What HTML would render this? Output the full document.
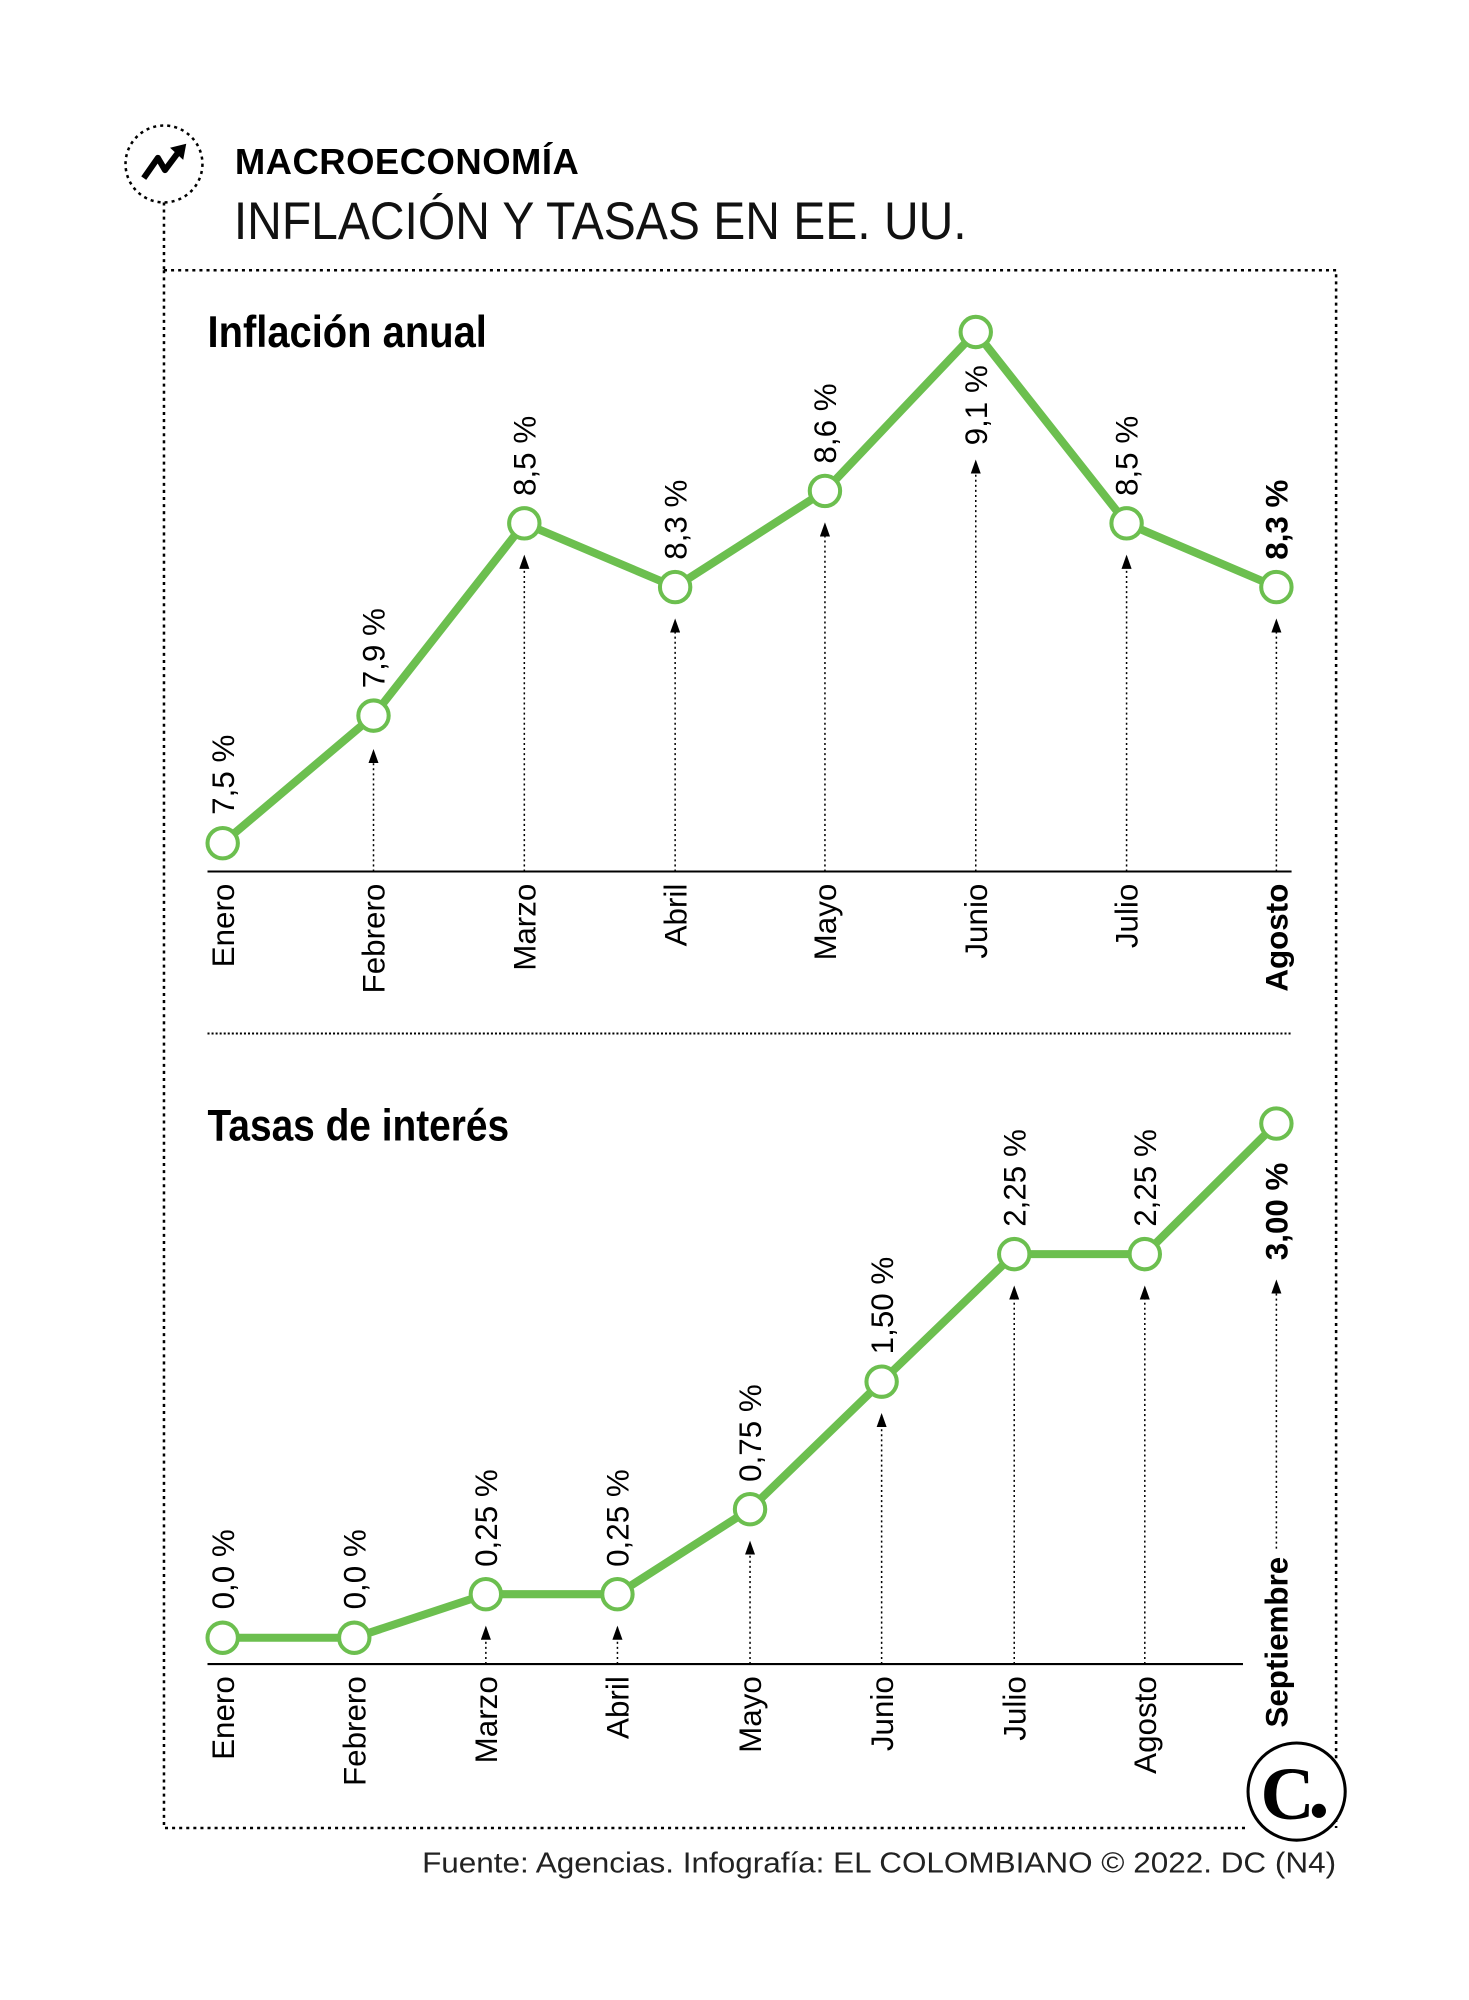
<!DOCTYPE html>
<html><head><meta charset="utf-8"><style>
body{margin:0;background:#fff}
svg{display:block}
text{font-family:"Liberation Sans",sans-serif}
</style></head><body>
<svg width="1469" height="2000" viewBox="0 0 1469 2000" xmlns="http://www.w3.org/2000/svg">
<defs>
<marker id="ar" markerWidth="14" markerHeight="10" refX="12" refY="5" orient="auto" markerUnits="userSpaceOnUse">
<path d="M0,0 L14,5 L0,10 Z" fill="#000"/></marker>
</defs>
<g transform="scale(1.0122)">
<circle cx="162" cy="162" r="38" fill="none" stroke="#000" stroke-width="2.5" stroke-dasharray="3 4"/>
<path d="M142,176 L156,156 L163,168 L178,148" fill="none" stroke="#000" stroke-width="6" stroke-linejoin="round"/>
<path d="M168,146 L184,142 L181,158 Z" fill="#000"/>
<line x1="162" y1="200" x2="162" y2="267" stroke="#000" stroke-width="2.5" stroke-dasharray="3 4"/>
<text x="232" y="172" font-size="36" font-weight="bold" style="letter-spacing:0.5px">MACROECONOMÍA</text>
<text x="231" y="236" font-size="52" fill="#111" textLength="724" lengthAdjust="spacingAndGlyphs">INFLACIÓN Y TASAS EN EE. UU.</text>
<path d="M162,267 L1320,267 L1320,1806 M162,267 L162,1806 L1232,1806" fill="none" stroke="#000" stroke-width="2.5" stroke-dasharray="3 4"/>

<text x="205" y="343" font-size="44" font-weight="bold" textLength="276" lengthAdjust="spacingAndGlyphs">Inflación anual</text>

<line x1="205" y1="861" x2="1276" y2="861" stroke="#000" stroke-width="2"/>
<g stroke="#000" stroke-width="1.5" stroke-dasharray="2 3" marker-end="url(#ar)">
<line x1="369" y1="861" x2="369" y2="742"/>
<line x1="518" y1="861" x2="518" y2="550"/>
<line x1="667" y1="861" x2="667" y2="613"/>
<line x1="815" y1="861" x2="815" y2="518"/>
<line x1="964" y1="861" x2="964" y2="456"/>
<line x1="1113" y1="861" x2="1113" y2="550"/>
<line x1="1261" y1="861" x2="1261" y2="613"/>
</g>
<polyline points="220,833 369,707 518,517 667,580 815,485 964,328 1113,517 1261,580" fill="none" stroke="#6cbf4f" stroke-width="8" stroke-linejoin="round"/>
<g fill="#fff" stroke="#6cbf4f" stroke-width="4">
<circle cx="220" cy="833" r="15"/><circle cx="369" cy="707" r="15"/><circle cx="518" cy="517" r="15"/><circle cx="667" cy="580" r="15"/><circle cx="815" cy="485" r="15"/><circle cx="964" cy="328" r="15"/><circle cx="1113" cy="517" r="15"/><circle cx="1261" cy="580" r="15"/>
</g>
<g font-size="31">
<text transform="translate(231,805) rotate(-90)">7,5 %</text>
<text transform="translate(380,680) rotate(-90)">7,9 %</text>
<text transform="translate(529,490) rotate(-90)">8,5 %</text>
<text transform="translate(678,553) rotate(-90)">8,3 %</text>
<text transform="translate(826,458) rotate(-90)">8,6 %</text>
<text transform="translate(975,440) rotate(-90)">9,1 %</text>
<text transform="translate(1124,490) rotate(-90)">8,5 %</text>
<text transform="translate(1272,553) rotate(-90)" font-weight="bold">8,3 %</text>
</g>
<g font-size="31" text-anchor="end">
<text transform="translate(231,873) rotate(-90)">Enero</text>
<text transform="translate(380,873) rotate(-90)">Febrero</text>
<text transform="translate(529,873) rotate(-90)">Marzo</text>
<text transform="translate(678,873) rotate(-90)">Abril</text>
<text transform="translate(826,873) rotate(-90)">Mayo</text>
<text transform="translate(975,873) rotate(-90)">Junio</text>
<text transform="translate(1124,873) rotate(-90)">Julio</text>
<text transform="translate(1272,873) rotate(-90)" font-weight="bold">Agosto</text>
</g>

<line x1="205" y1="1021" x2="1276" y2="1021" stroke="#000" stroke-width="2" stroke-dasharray="2 2"/>

<text x="205" y="1127" font-size="44" font-weight="bold" textLength="298" lengthAdjust="spacingAndGlyphs">Tasas de interés</text>

<line x1="205" y1="1644" x2="1228" y2="1644" stroke="#000" stroke-width="2"/>
<g stroke="#000" stroke-width="1.5" stroke-dasharray="2 3" marker-end="url(#ar)">
<line x1="480" y1="1644" x2="480" y2="1608"/>
<line x1="610" y1="1644" x2="610" y2="1608"/>
<line x1="741" y1="1644" x2="741" y2="1524"/>
<line x1="871" y1="1644" x2="871" y2="1398"/>
<line x1="1002" y1="1644" x2="1002" y2="1272"/>
<line x1="1131" y1="1644" x2="1131" y2="1272"/>
<line x1="1261" y1="1530" x2="1261" y2="1266"/>
</g>
<polyline points="220,1618 350,1618 480,1575 610,1575 741,1491 871,1365 1002,1239 1131,1239 1261,1110" fill="none" stroke="#6cbf4f" stroke-width="8" stroke-linejoin="round"/>
<g fill="#fff" stroke="#6cbf4f" stroke-width="4">
<circle cx="220" cy="1618" r="15"/><circle cx="350" cy="1618" r="15"/><circle cx="480" cy="1575" r="15"/><circle cx="610" cy="1575" r="15"/><circle cx="741" cy="1491" r="15"/><circle cx="871" cy="1365" r="15"/><circle cx="1002" cy="1239" r="15"/><circle cx="1131" cy="1239" r="15"/><circle cx="1261" cy="1110" r="15"/>
</g>
<g font-size="31">
<text transform="translate(231,1590) rotate(-90)">0,0 %</text>
<text transform="translate(361,1590) rotate(-90)">0,0 %</text>
<text transform="translate(491,1548) rotate(-90)">0,25 %</text>
<text transform="translate(621,1548) rotate(-90)">0,25 %</text>
<text transform="translate(752,1464) rotate(-90)">0,75 %</text>
<text transform="translate(882,1338) rotate(-90)">1,50 %</text>
<text transform="translate(1013,1212) rotate(-90)">2,25 %</text>
<text transform="translate(1142,1212) rotate(-90)">2,25 %</text>
<text transform="translate(1272,1245) rotate(-90)" font-weight="bold">3,00 %</text>
</g>
<g font-size="31" text-anchor="end">
<text transform="translate(231,1656) rotate(-90)">Enero</text>
<text transform="translate(361,1656) rotate(-90)">Febrero</text>
<text transform="translate(491,1656) rotate(-90)">Marzo</text>
<text transform="translate(621,1656) rotate(-90)">Abril</text>
<text transform="translate(752,1656) rotate(-90)">Mayo</text>
<text transform="translate(882,1656) rotate(-90)">Junio</text>
<text transform="translate(1013,1656) rotate(-90)">Julio</text>
<text transform="translate(1142,1656) rotate(-90)">Agosto</text>
</g>
<text transform="translate(1272,1538) rotate(-90)" font-size="31" font-weight="bold" text-anchor="end">Septiembre</text>

<circle cx="1281" cy="1770" r="48" fill="#fff" stroke="#000" stroke-width="3"/>
<text x="1272" y="1797" font-size="74" font-weight="bold" text-anchor="middle" style="font-family:'Liberation Serif',serif">C</text>
<circle cx="1303" cy="1789" r="7" fill="#000"/>

<text x="1320" y="1850" font-size="28" fill="#222" text-anchor="end" textLength="903" lengthAdjust="spacingAndGlyphs">Fuente: Agencias. Infografía: EL COLOMBIANO © 2022. DC (N4)</text>
</g>
</svg>
</body></html>
